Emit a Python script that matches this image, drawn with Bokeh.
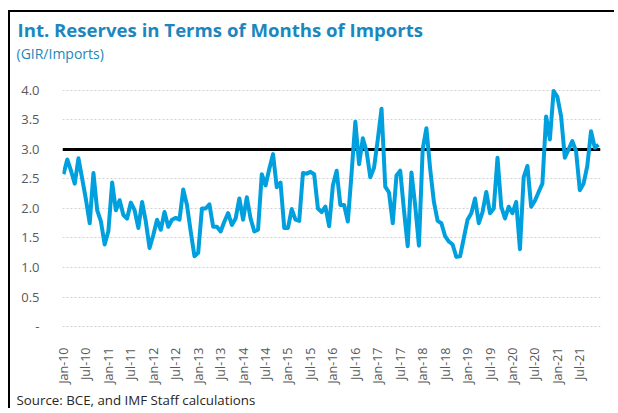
import math
from bokeh.plotting import figure
from bokeh.models import Range1d, FixedTicker, Span, Title, NumeralTickFormatter
from bokeh.embed import file_html
from bokeh.resources import INLINE

# Monthly reserves in months of imports, Jan-10 .. Dec-21
reserves = [
    2.58, 2.83, 2.64, 2.42, 2.85, 2.50, 2.15, 1.75, 2.60, 1.97, 1.78, 1.39,
    1.62, 2.44, 1.97, 2.14, 1.89, 1.83, 2.10, 1.97, 1.67, 2.11, 1.78, 1.33,
    1.55, 1.81, 1.64, 1.94, 1.69, 1.81, 1.84, 1.81, 2.32, 2.06, 1.61, 1.19,
    1.25, 2.00, 2.00, 2.07, 1.69, 1.69, 1.61, 1.78, 1.92, 1.72, 1.83, 2.17,
    1.81, 2.19, 1.83, 1.61, 1.64, 2.58, 2.39, 2.67, 2.92, 2.36, 2.44, 1.67,
    1.67, 1.99, 1.81, 1.79, 2.60, 2.59, 2.62, 2.58, 2.00, 1.94, 2.03, 1.70,
    2.39, 2.64, 2.06, 2.06, 1.78, 2.60, 3.47, 2.75, 3.19, 2.97, 2.53, 2.69,
    3.17, 3.69, 2.37, 2.27, 1.75, 2.56, 2.64, 1.97, 1.36, 2.61, 2.05, 1.37,
    3.00, 3.36, 2.67, 2.11, 1.79, 1.75, 1.53, 1.44, 1.39, 1.18, 1.19, 1.50,
    1.81, 1.92, 2.17, 1.75, 1.94, 2.28, 1.92, 2.00, 2.86, 2.03, 1.83, 2.03,
    1.92, 2.11, 1.31, 2.53, 2.72, 2.03, 2.13, 2.28, 2.42, 3.56, 3.17, 3.99,
    3.89, 3.56, 2.86, 3.00, 3.14, 2.97, 2.31, 2.42, 2.72, 3.31, 3.03, 3.08,
]
tick_labels = [
    "Jan-10", "Jul-10", "Jan-11", "Jul-11", "Jan-12", "Jul-12", "Jan-13", "Jul-13",
    "Jan-14", "Jul-14", "Jan-15", "Jul-15", "Jan-16", "Jul-16", "Jan-17", "Jul-17",
    "Jan-18", "Jul-18", "Jan-19", "Jul-19", "Jan-20", "Jul-20", "Jan-21", "Jul-21",
]
y_ticks = [0, 0.5, 1.0, 1.5, 2.0, 2.5, 3.0, 3.5, 4.0]
threshold = 3.0

months = list(range(len(reserves)))
tick_idx = [6 * k for k in range(len(tick_labels))]

FONT = "Open Sans"
BLUE_T = "#1C87BE"

p = figure(width=606, height=398,
           x_range=Range1d(-0.27, 143.53), y_range=Range1d(-0.05, 4.1),
           output_backend="svg", toolbar_location=None,
           min_border_left=52, min_border_right=16,
           min_border_top=72, min_border_bottom=77)
p.outline_line_color = None
p.styles = {"border-left": "2px solid black", "border-top": "2px solid black",
            "margin-top": "10px", "margin-left": "8px"}

span = Span(location=threshold, dimension="width", line_color="black",
            line_width=3, level="underlay")
p.add_layout(span)

p.line(months, reserves, line_color="#00A0DF", line_width=4, line_join="round")

p.xgrid.visible = False
p.ygrid.grid_line_color = "#D0D0D0"
p.ygrid.grid_line_dash = "2 2"
p.ygrid.grid_line_width = 1.2

p.xaxis.ticker = FixedTicker(ticks=tick_idx)
p.xaxis.major_label_overrides = {i: lab for i, lab in zip(tick_idx, tick_labels)}
p.xaxis.major_label_orientation = math.pi / 2
p.yaxis.ticker = FixedTicker(ticks=y_ticks)
p.yaxis.formatter = NumeralTickFormatter(format="0.0")
p.yaxis.major_label_overrides = {0: "-"}

for ax in (p.xaxis[0], p.yaxis[0]):
    ax.axis_line_color = None
    ax.major_tick_line_color = None
    ax.minor_tick_line_color = None
    ax.major_label_text_font = FONT
    ax.major_label_text_color = "#595959"
p.xaxis.major_label_text_font_size = "12.5px"
p.xaxis.major_label_standoff = 12
p.yaxis.major_label_text_font_size = "13px"
p.yaxis.major_label_standoff = 17

# white (invisible) spacer between the subtitle and the plot area
p.add_layout(Title(text=".", text_font=FONT, text_font_size="10px",
                   text_color="white", standoff=12), "above")
p.add_layout(Title(text="(GIR/Imports)", align="left", offset=-46,
                   text_font=FONT, text_font_size="14px", text_font_style="normal",
                   text_color=BLUE_T, standoff=0), "above")
p.add_layout(Title(text="Int. Reserves in Terms of Months of Imports", align="left",
                   offset=-45, text_font=FONT, text_font_size="18.6px",
                   text_font_style="bold", text_color=BLUE_T, standoff=0), "above")
p.add_layout(Title(text="Source: BCE, and IMF Staff calculations", align="left",
                   offset=-46, text_font=FONT, text_font_size="13.3px",
                   text_font_style="normal", text_color="#262626", standoff=4), "below")

open("out.html", "w").write(file_html(p, INLINE))
